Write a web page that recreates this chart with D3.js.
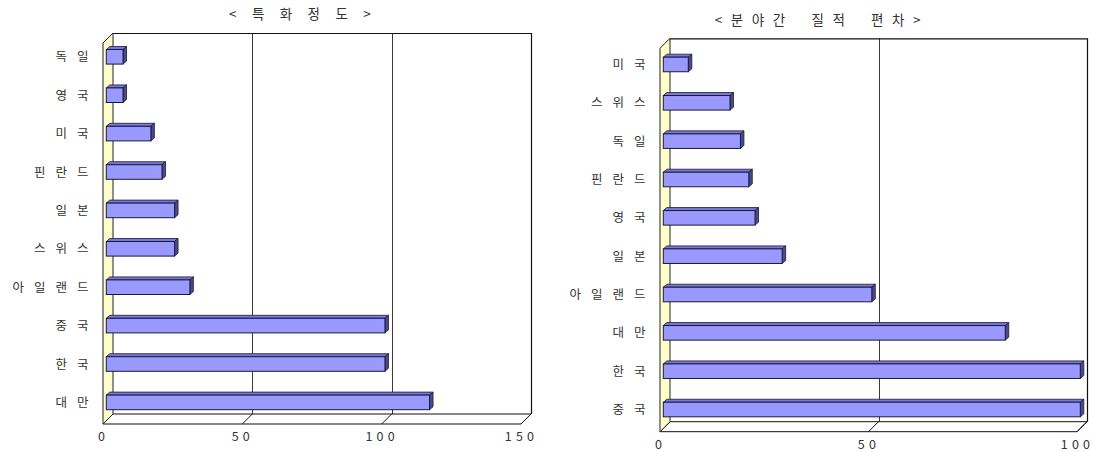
<!DOCTYPE html>
<html>
<head>
<meta charset="utf-8">
<script src="https://cdn.jsdelivr.net/npm/d3@7"></script>
<style>
  html, body { margin: 0; padding: 0; background: #fff; }
  svg { display: block; }
  text { font-family: "Noto Sans CJK KR", "Noto Sans", sans-serif; fill: #333; white-space: pre; }
</style>
</head>
<body>
<svg id="chart" width="1093" height="452"></svg>
<script>
// ---- data ----
const specTitle = "< 특 화 정 도 >";
const specCategories = ["독 일", "영 국", "미 국", "핀 란 드", "일 본", "스 위 스", "아 일 랜 드", "중 국", "한 국", "대 만"];
const specValues = [6, 6, 16, 20, 24.5, 24.5, 30, 100, 100, 116];
const specTicks = [0, 50, 100, 150];

const gapTitle = "< 분 야 간    질 적    편 차 >";
const gapCategories = ["미 국", "스 위 스", "독 일", "핀 란 드", "영 국", "일 본", "아 일 랜 드", "대 만", "한 국", "중 국"];
const gapValues = [6, 16, 18.5, 20.5, 22, 28.5, 50, 82, 100, 100];
const gapTicks = [0, 50, 100];

const svg = d3.select("#chart");

// Draws one pseudo-3D horizontal bar chart (floor, left wall, back wall, bars).
function drawPanel(cfg) {
  const g = svg.append("g");
  const D = 10;               // depth of the box
  const bd = 3.5, bdy = 3;    // depth of each bar
  const max = cfg.ticks[cfg.ticks.length - 1];

  // front-edge scale (floor front line) and back-wall scale
  const xf = d3.scaleLinear().domain([0, max]).range([cfg.x0, cfg.x0 + cfg.w]);
  const xb = d3.scaleLinear().domain([0, max]).range([cfg.x0 + D, cfg.x0 + cfg.w + D]);
  // bar front faces sit a little into the depth
  const xbar = d3.scaleLinear().domain([0, max]).range([cfg.x0 + 3.3, cfg.x0 + cfg.w + 3.3]);
  const y = d3.scaleBand().domain(cfg.categories).range(cfg.band).paddingInner(0.62).paddingOuter(0.31);

  const fy = cfg.floorY, by = cfg.floorY - D, top = cfg.top;

  // back wall
  g.append("rect").attr("x", xb(0)).attr("y", top).attr("width", xb(max) - xb(0)).attr("height", by - top)
    .attr("fill", "#fff").attr("stroke", "none");
  // gridlines on back wall
  g.selectAll("line.grid").data(cfg.ticks.filter(t => t > 0 && t < max)).join("line")
    .attr("class", "grid")
    .attr("x1", d => Math.round(xb(d)) + 0.5).attr("x2", d => Math.round(xb(d)) + 0.5)
    .attr("y1", top).attr("y2", by)
    .attr("stroke", "#3a3a3a").attr("stroke-width", 1);
  // top and right edges of back wall
  g.append("path")
    .attr("d", `M${xb(0)},${top + 0.5}H${Math.round(xb(max)) + 0.5}V${by}`)
    .attr("fill", "none").attr("stroke", "#111").attr("stroke-width", 1.2);

  // floor
  g.append("path")
    .attr("d", `M${xf(0)},${fy}L${xb(0)},${by}L${xb(max)},${by}L${xf(max)},${fy}Z`)
    .attr("fill", "#fff").attr("stroke", "#111").attr("stroke-width", 1);
  // floor depth lines at each tick
  g.selectAll("line.tick3d").data(cfg.ticks).join("line")
    .attr("class", "tick3d")
    .attr("x1", d => xf(d)).attr("y1", fy)
    .attr("x2", d => xb(d)).attr("y2", by)
    .attr("stroke", "#111").attr("stroke-width", 1);

  // left wall
  g.append("path")
    .attr("d", `M${xf(0)},${fy}L${xb(0)},${by}L${xb(0)},${top}L${xf(0)},${top + D}Z`)
    .attr("fill", "#ffffcc").attr("stroke", "#222").attr("stroke-width", 1);

  // bars
  const bars = g.selectAll("g.bar").data(cfg.categories.map((c, i) => ({ c, v: cfg.values[i] }))).join("g")
    .attr("class", "bar");
  bars.append("path") // top face
    .attr("d", d => {
      const x0 = xbar(0), x1 = xbar(d.v), yt = y(d.c);
      return `M${x0},${yt}L${x0 + bd},${yt - bdy}L${x1 + bd},${yt - bdy}L${x1},${yt}Z`;
    })
    .attr("fill", "#7777dd").attr("stroke", "#1a1a33").attr("stroke-width", 0.8).attr("stroke-linejoin", "round");
  bars.append("path") // side face
    .attr("d", d => {
      const x1 = xbar(d.v), yt = y(d.c), h = y.bandwidth();
      return `M${x1},${yt}L${x1 + bd},${yt - bdy}L${x1 + bd},${yt + h - bdy}L${x1},${yt + h}Z`;
    })
    .attr("fill", "#4b4b8c").attr("stroke", "#1a1a33").attr("stroke-width", 0.8).attr("stroke-linejoin", "round");
  bars.append("rect") // front face
    .attr("x", xbar(0)).attr("y", d => y(d.c))
    .attr("width", d => xbar(d.v) - xbar(0)).attr("height", y.bandwidth())
    .attr("fill", "#9999ff").attr("stroke", "#1a1a33").attr("stroke-width", 1);

  // category labels
  g.selectAll("text.cat").data(cfg.categories).join("text")
    .attr("class", "cat")
    .attr("x", cfg.labelX).attr("y", d => y(d) + y.bandwidth() / 2)
    .attr("dy", "0.36em").attr("text-anchor", "end")
    .attr("font-size", 12.5).attr("letter-spacing", 3.6)
    .text(d => d);

  // value axis labels
  const axis = d3.axisBottom(xf).tickValues(cfg.ticks).tickSize(0).tickPadding(0).tickFormat(d3.format("d"));
  const ag = g.append("g").attr("transform", `translate(0,${fy + 8.5})`).call(axis);
  ag.select(".domain").remove();
  ag.selectAll("text").attr("font-size", 12.5).attr("letter-spacing", 4.2)
    .attr("font-family", "\"Noto Sans CJK KR\", sans-serif").attr("fill", "#333").attr("dx", 0);

  // title
  g.append("text").attr("x", cfg.titleX).attr("y", cfg.titleY)
    .attr("text-anchor", "middle").attr("font-size", 13.5).attr("letter-spacing", cfg.titleSpacing)
    .text(cfg.title);
}

drawPanel({
  title: specTitle, titleX: 303, titleY: 19, titleSpacing: 6.2,
  categories: specCategories, values: specValues, ticks: specTicks,
  x0: 103, w: 418, floorY: 424, top: 33, band: [37.6, 421.6], labelX: 92
});

drawPanel({
  title: gapTitle, titleX: 819, titleY: 25, titleSpacing: 2.8,
  categories: gapCategories, values: gapValues, ticks: gapTicks,
  x0: 660, w: 417, floorY: 431.7, top: 38.3, band: [45.3, 428.7], labelX: 649
});
</script>
</body>
</html>
